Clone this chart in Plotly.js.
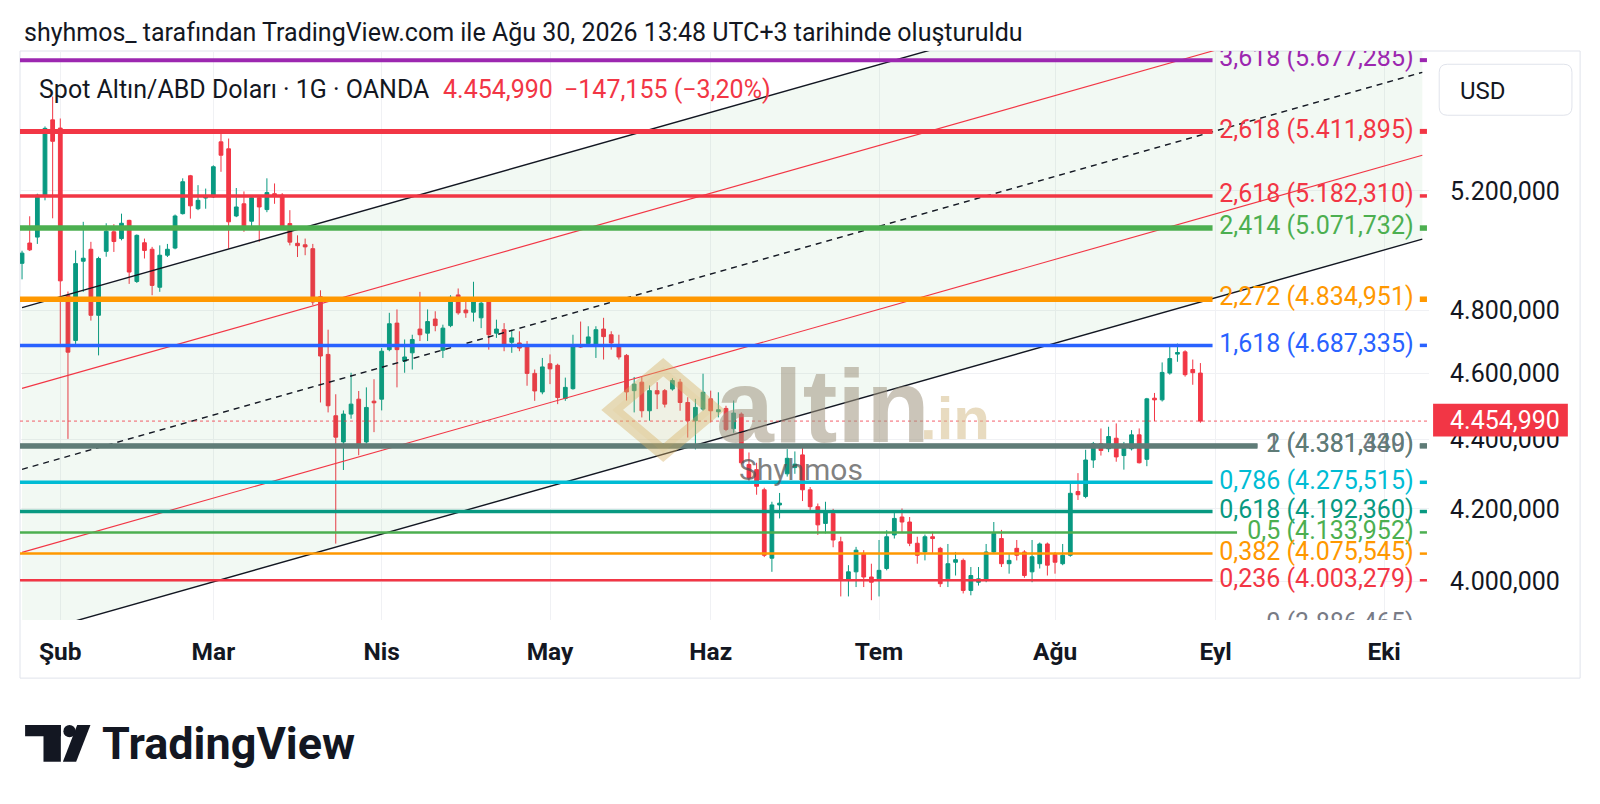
<!DOCTYPE html>
<html><head><meta charset="utf-8">
<script src="https://cdn.plot.ly/plotly-3.0.1.min.js"></script>
<style>html,body{margin:0;padding:0;background:#fff;}#chart{width:1600px;height:804px;}</style>
</head><body><div id="chart"></div>
<script>
// ---------- DATA ----------
const dates = [
'2026-01-26','2026-01-27','2026-01-28','2026-01-29','2026-01-30',
'2026-02-02','2026-02-03','2026-02-04','2026-02-05','2026-02-06','2026-02-09','2026-02-10','2026-02-11','2026-02-12','2026-02-13',
'2026-02-16','2026-02-17','2026-02-18','2026-02-19','2026-02-20','2026-02-23','2026-02-24','2026-02-25','2026-02-26','2026-02-27',
'2026-03-02','2026-03-03','2026-03-04','2026-03-05','2026-03-06','2026-03-09','2026-03-10','2026-03-11','2026-03-12','2026-03-13',
'2026-03-16','2026-03-17','2026-03-18','2026-03-19','2026-03-20','2026-03-23','2026-03-24','2026-03-25','2026-03-26','2026-03-27','2026-03-30','2026-03-31',
'2026-04-01','2026-04-02','2026-04-03','2026-04-06','2026-04-07','2026-04-08','2026-04-09','2026-04-10','2026-04-13','2026-04-14','2026-04-15',
'2026-04-16','2026-04-17','2026-04-20','2026-04-21','2026-04-22','2026-04-23','2026-04-24','2026-04-27','2026-04-28','2026-04-29','2026-04-30',
'2026-05-01','2026-05-04','2026-05-05','2026-05-06','2026-05-07','2026-05-08','2026-05-11','2026-05-12','2026-05-13','2026-05-14','2026-05-15',
'2026-05-18','2026-05-19','2026-05-20','2026-05-21','2026-05-22','2026-05-25','2026-05-26','2026-05-27','2026-05-28','2026-05-29',
'2026-06-01','2026-06-02','2026-06-03','2026-06-04','2026-06-05','2026-06-08','2026-06-09','2026-06-10','2026-06-11','2026-06-12',
'2026-06-15','2026-06-16','2026-06-17','2026-06-18','2026-06-19','2026-06-22','2026-06-23','2026-06-24','2026-06-25','2026-06-26','2026-06-29','2026-06-30',
'2026-07-01','2026-07-02','2026-07-03','2026-07-06','2026-07-07','2026-07-08','2026-07-09','2026-07-10','2026-07-13','2026-07-14','2026-07-15',
'2026-07-16','2026-07-17','2026-07-20','2026-07-21','2026-07-22','2026-07-23','2026-07-24','2026-07-27','2026-07-28','2026-07-29','2026-07-30','2026-07-31',
'2026-08-03','2026-08-04','2026-08-05','2026-08-06','2026-08-07','2026-08-10','2026-08-11','2026-08-12','2026-08-13','2026-08-14',
'2026-08-17','2026-08-18','2026-08-19','2026-08-20','2026-08-21','2026-08-24','2026-08-25','2026-08-26','2026-08-27','2026-08-28'];

const openP = [4953,5021,5041,5185,5454,5424,4848,4703,4960,5000,4783,4993,5059,5036,5098,4893,5022,5000,4874,4980,
5004,5121,5253,5138,5175,5179,5374,5349,5113,5155,5095,5176,5135,5190,5185,5087,5020,5015,5002,4843,
4659,4471,4393,4476,4521,4393,4515,4521,4674,4758,4638,4664,4739,4726,4771,4672,4750,4849,4800,4793,
4775,4830,4726,4737,4697,4695,4690,4600,4543,4630,4625,4523,4553,4688,4693,4684,4739,4721,4690,4656,
4547,4573,4486,4547,4547,4552,4573,4511,4456,4491,4522,4483,4493,4432,4476,4327,4312,4254,4063,4211,
4300,4318,4355,4254,4206,4159,4187,4108,4003,4026,4076,4012,4007,4035,4127,4177,4163,4104,4080,4122,
4090,4007,4052,4057,3976,3998,4003,4080,4117,4048,4090,4080,4026,4048,4102,4073,4048,4071,4249,4235,
4340,4388,4373,4404,4353,4373,4414,4342,4524,4519,4601,4660,4667,4612,4601];
const highP = [4995,5112,5190,5430,5540,5459,4860,4996,5093,5025,4975,5088,5085,5121,5100,5050,5036,5008,5013,5018,
5118,5244,5256,5220,5208,5290,5405,5386,5210,5198,5180,5180,5244,5226,5192,5133,5047,5036,5018,4864,
4737,4536,4487,4602,4546,4557,4582,4679,4791,4802,4706,4721,4859,4802,4796,4753,4848,4870,4838,4892,
4827,4832,4769,4758,4737,4732,4701,4612,4648,4659,4630,4587,4721,4763,4748,4748,4775,4732,4721,4660,
4589,4589,4563,4573,4552,4585,4583,4527,4522,4599,4547,4542,4501,4517,4481,4362,4332,4260,4220,4245,
4372,4365,4376,4262,4215,4220,4200,4122,4044,4094,4085,4048,4113,4140,4192,4201,4177,4122,4128,4136,
4094,4102,4080,4062,4039,4039,4102,4163,4141,4076,4113,4085,4113,4106,4106,4080,4102,4272,4302,4370,
4393,4433,4438,4448,4393,4428,4433,4525,4540,4634,4685,4693,4672,4643,4632];
const lowP = [4900,4994,5018,5167,5105,4692,4402,4692,4859,4766,4656,4975,4991,5030,4885,4888,4969,4848,4859,4974,
5000,5118,5104,5133,5138,5175,5267,5002,5109,5059,5070,5025,5126,5155,5068,5013,4974,4980,4816,4511,
4481,4103,4311,4462,4354,4388,4422,4487,4669,4557,4602,4612,4701,4701,4732,4648,4745,4785,4775,4763,
4742,4674,4711,4669,4664,4669,4562,4516,4536,4567,4506,4516,4550,4679,4690,4648,4643,4674,4643,4517,
4481,4466,4456,4491,4496,4547,4486,4406,4371,4486,4451,4466,4425,4420,4327,4278,4240,4066,4026,4173,
4292,4300,4222,4195,4127,4131,4093,3960,3960,3985,3985,3950,3960,4030,4117,4132,4096,4048,4057,4076,
3985,3985,4016,3968,3963,3989,3998,4076,4039,4021,4057,4010,3998,4035,4016,4021,4044,4067,4225,4230,
4317,4353,4363,4335,4312,4368,4330,4322,4455,4514,4596,4636,4590,4565,4450];
const closeP = [4987,4998,5185,5423,5376,4895,4666,4952,4970,4783,4969,5061,5026,5088,4924,5047,4996,4880,4980,5000,
5113,5232,5148,5167,5183,5285,5326,5093,5144,5070,5176,5144,5194,5183,5076,5024,5012,5008,4826,4654,
4501,4407,4476,4506,4383,4496,4510,4669,4756,4674,4651,4706,4721,4763,4750,4742,4841,4791,4791,4827,
4822,4721,4739,4684,4711,4679,4600,4546,4620,4614,4526,4557,4684,4682,4714,4737,4715,4695,4651,4543,
4567,4486,4547,4537,4506,4578,4511,4456,4496,4542,4486,4489,4430,4479,4332,4288,4264,4071,4211,4216,
4345,4328,4254,4206,4155,4192,4113,4003,4026,4085,4012,3998,4030,4122,4173,4163,4104,4071,4122,4117,
3994,4048,4059,3976,4016,4007,4080,4131,4048,4057,4071,4016,4067,4102,4044,4052,4071,4244,4240,4340,
4388,4368,4409,4349,4384,4414,4332,4522,4519,4603,4646,4665,4596,4602.145,4454.990];

const monthTickDates = ['2026-02-02','2026-03-02','2026-04-01','2026-05-01','2026-06-01','2026-07-01','2026-08-03','2026-09-01','2026-10-01'];
const monthTickLabels = ['Şub','Mar','Nis','May','Haz','Tem','Ağu','Eyl','Eki'];
const priceTicks = [4000,4200,4400,4600,4800,5200];

const fibRatios = ['3,618','2,618','2,618','2,414','2,272','1,618','1','2','0,786','0,618','0,5','0,382','0,236','0'];
const fibPrices = [5677.285,5411.895,5182.310,5071.732,4834.951,4687.335,4381.439,4381.340,4275.515,4192.360,4133.952,4075.545,4003.279,3886.465];

const channelDates = ['2026-01-26 12:00','2026-10-08 12:00'];
const channelUpper = [4808,6277];
const channelRedUpper = [4554,5945];
const channelMiddle = [4313,5631];
const channelRedLower = [4079,5326];
const channelLower = [3856,5034];

// ---------- STYLE ----------
const fibColors = ['#9c27b0','#f23645','#f23645','#4caf50','#ff9800','#2962ff','#787b86','#5f7c77','#00bcd4','#089981','#4caf50','#ff9800','#f23645','#787b86'];
const fibWidths = [4,5,3.5,5.5,5.5,3.5,4,5.5,3.5,3.5,2.5,2.5,2.5,2];
const fibLineEnd = [1188,1188,1188,1188,1188,1188,1232,1232,1188,1188,1212,1188,1188,1215];
const UP='#089981', DOWN='#F23645', INK='#131722';
const S = 1600/1568;            // layout units -> page pixels
const PL=20, PR=1400, PT=50, PB=608;
const xp = x => (x-PL)/(PR-PL);
const yp = y => (PB-y)/(PB-PT);
const fmt = v => { const s=v.toFixed(3).split('.'); return s[0].replace(/\B(?=(\d{3})+(?!\d))/g,'.')+','+s[1]; };
const MINUS='\u2212';

const n = closeP.length;
const lastPrice = closeP[n-1];
const chg = closeP[n-1]-closeP[n-2];
const chgPct = chg/closeP[n-2]*100;

const traces = [];
traces.push({type:'scatter',mode:'lines',x:[channelDates[0],channelDates[1],channelDates[1],channelDates[0],channelDates[0]],
  y:[channelUpper[0],channelUpper[1],channelLower[1],channelLower[0],channelUpper[0]],
  fill:'toself',fillcolor:'rgba(76,175,80,0.07)',line:{width:0},hoverinfo:'skip'});
traces.push({type:'candlestick',x:dates.map(d=>d+' 12:00'),open:openP,high:highP,low:lowP,close:closeP,
  increasing:{line:{color:UP,width:1},fillcolor:UP},decreasing:{line:{color:DOWN,width:1},fillcolor:DOWN},
  whiskerwidth:0,hoverinfo:'skip'});
fibPrices.forEach((p,i)=>{
  traces.push({type:'scatter',mode:'lines',xaxis:'x2',yaxis:'y',x:[PL,fibLineEnd[i],null,1391,1398],y:[p,p,null,p,p],
    line:{color:fibColors[i],width:fibWidths[i]},hoverinfo:'skip',connectgaps:false});
});
traces.push({type:'scatter',mode:'text',xaxis:'x2',yaxis:'y',x:fibPrices.map(()=>1385),y:fibPrices,
  text:fibPrices.map((p,i)=>fibRatios[i]+' ('+fmt(p)+')'),textposition:'middle left',cliponaxis:true,
  textfont:{color:fibColors,size:25,family:'Roboto'},hoverinfo:'skip'});
const chan = (y,color,dash,w)=>traces.push({type:'scatter',mode:'lines',x:channelDates,y:y,line:{color:color,width:w,dash:dash},hoverinfo:'skip'});
chan(channelUpper,INK,'solid',1.4);
chan(channelRedUpper,'#f23645','solid',1.1);
chan(channelMiddle,INK,'6px,5px',1.4);
chan(channelRedLower,'#f23645','solid',1.1);
chan(channelLower,INK,'solid',1.4);

function rr(x0,y0,x1,y1,r){
  return `M${xp(x0+r)},${yp(y0)} L${xp(x1-r)},${yp(y0)} Q${xp(x1)},${yp(y0)} ${xp(x1)},${yp(y0+r)} L${xp(x1)},${yp(y1-r)} Q${xp(x1)},${yp(y1)} ${xp(x1-r)},${yp(y1)} L${xp(x0+r)},${yp(y1)} Q${xp(x0)},${yp(y1)} ${xp(x0)},${yp(y1-r)} L${xp(x0)},${yp(y0+r)} Q${xp(x0)},${yp(y0)} ${xp(x0+r)},${yp(y0)} Z`;
}
function poly(pts){ return 'M'+pts.map(p=>xp(p[0])+','+yp(p[1])).join(' L')+' Z'; }

const shapes = [
  {type:'rect',xref:'paper',yref:'paper',x0:xp(20),x1:xp(1548),y0:yp(665),y1:yp(50),line:{color:'#e0e3eb',width:1},layer:'below'},
  {type:'line',xref:'paper',yref:'y',x0:0,x1:1,y0:lastPrice,y1:lastPrice,line:{color:'rgba(242,54,69,0.8)',width:1,dash:'dot'}},
  {type:'rect',xref:'paper',yref:'paper',x0:xp(1404),x1:xp(1536),y0:yp(428),y1:yp(396),fillcolor:DOWN,line:{width:0}},
  {type:'path',xref:'paper',yref:'paper',path:rr(1410,63,1540,113,8),line:{color:'#e0e3eb',width:1},fillcolor:'#fff'},
  {type:'path',xref:'paper',yref:'paper',path:poly([[600,402],[650,360],[700,402],[650,444]]),line:{color:'rgba(214,176,100,0.42)',width:14},fillcolor:'rgba(214,176,100,0.10)'},
  {type:'rect',xref:'paper',yref:'paper',x0:xp(25),x1:xp(60),y0:yp(722),y1:yp(711),fillcolor:INK,line:{width:0}},
  {type:'rect',xref:'paper',yref:'paper',x0:xp(43),x1:xp(60),y0:yp(747),y1:yp(711),fillcolor:INK,line:{width:0}},
  {type:'circle',xref:'paper',yref:'paper',x0:xp(62.5),x1:xp(74.5),y0:yp(723),y1:yp(711),fillcolor:INK,line:{width:0}},
  {type:'path',xref:'paper',yref:'paper',path:poly([[76,711],[89,711],[75,747],[62,747]]),fillcolor:INK,line:{width:0}}
];

const ann = (x,y,text,opt)=>Object.assign({xref:'paper',yref:'paper',x:xp(x),y:yp(y),text:text,showarrow:false,xanchor:'left',yanchor:'middle',font:{family:'Roboto',size:25,color:INK}},opt||{});
const annotations = [
  ann(22,32,'shyhmos_ tarafından TradingView.com ile Ağu 30, 2026 13:48 UTC+3 tarihinde oluşturuldu'),
  ann(37,88,'Spot Altın/ABD Doları · 1G · OANDA'),
  ann(432,88,fmt(lastPrice),{font:{family:'Roboto',size:25,color:DOWN}}),
  ann(551,88,MINUS+fmt(Math.abs(chg))+' ('+MINUS+Math.abs(chgPct).toFixed(2).replace('.',',')+'%)',{font:{family:'Roboto',size:25,color:DOWN}}),
  ann(1428,89,'USD',{font:{family:'Roboto',size:24,color:INK}}),
  ann(1419,412,fmt(lastPrice),{font:{family:'Roboto',size:25,color:'#ffffff'}}),
  ann(700,398,'altin',{font:{family:'Liberation Sans',size:104,weight:700,color:'rgba(160,150,128,0.55)'}}),
  ann(900,410,'.in',{font:{family:'Liberation Sans',size:60,weight:700,color:'rgba(214,190,140,0.55)'}}),
  ann(785,460,'Shyhmos',{xanchor:'center',font:{family:'Roboto',size:30,color:'rgba(80,80,80,0.72)'}}),
  ann(98,729,'TradingView',{font:{family:'Roboto',size:45,weight:700,color:INK}})
];

const layout = {
  width:1600,height:804,margin:{l:PL*S,r:1600-PR*S,t:PT*S,b:804-PB*S},
  paper_bgcolor:'#fff',plot_bgcolor:'#fff',separators:',.',showlegend:false,hovermode:false,dragmode:false,
  font:{family:'Roboto',color:INK},
  xaxis:{type:'date',range:['2026-01-26 05:36','2026-10-09 09:00'],rangebreaks:[{bounds:['sat','mon']}],
    tickvals:monthTickDates.map(d=>d+' 12:00'),ticktext:monthTickLabels,tickfont:{size:24.5,weight:700,color:INK,family:'Roboto'},
    ticks:'',showgrid:true,gridcolor:'#f0f1f4',zeroline:false,showline:false,rangeslider:{visible:false},ticklabelstandoff:14,fixedrange:true},
  xaxis2:{overlaying:'x',range:[PL,PR],visible:false,fixedrange:true},
  yaxis:{type:'log',side:'right',range:[Math.log10(3897.8),Math.log10(5712.2)],tickvals:priceTicks,tickformat:',.3f',
    tickfont:{size:25,color:INK,family:'Roboto'},ticks:'',showgrid:true,gridcolor:'#f0f1f4',zeroline:false,showline:false,ticklabelstandoff:20,fixedrange:true},
  shapes:shapes,annotations:annotations
};
Plotly.newPlot('chart',traces,layout,{staticPlot:true,displayModeBar:false});
</script></body></html>
